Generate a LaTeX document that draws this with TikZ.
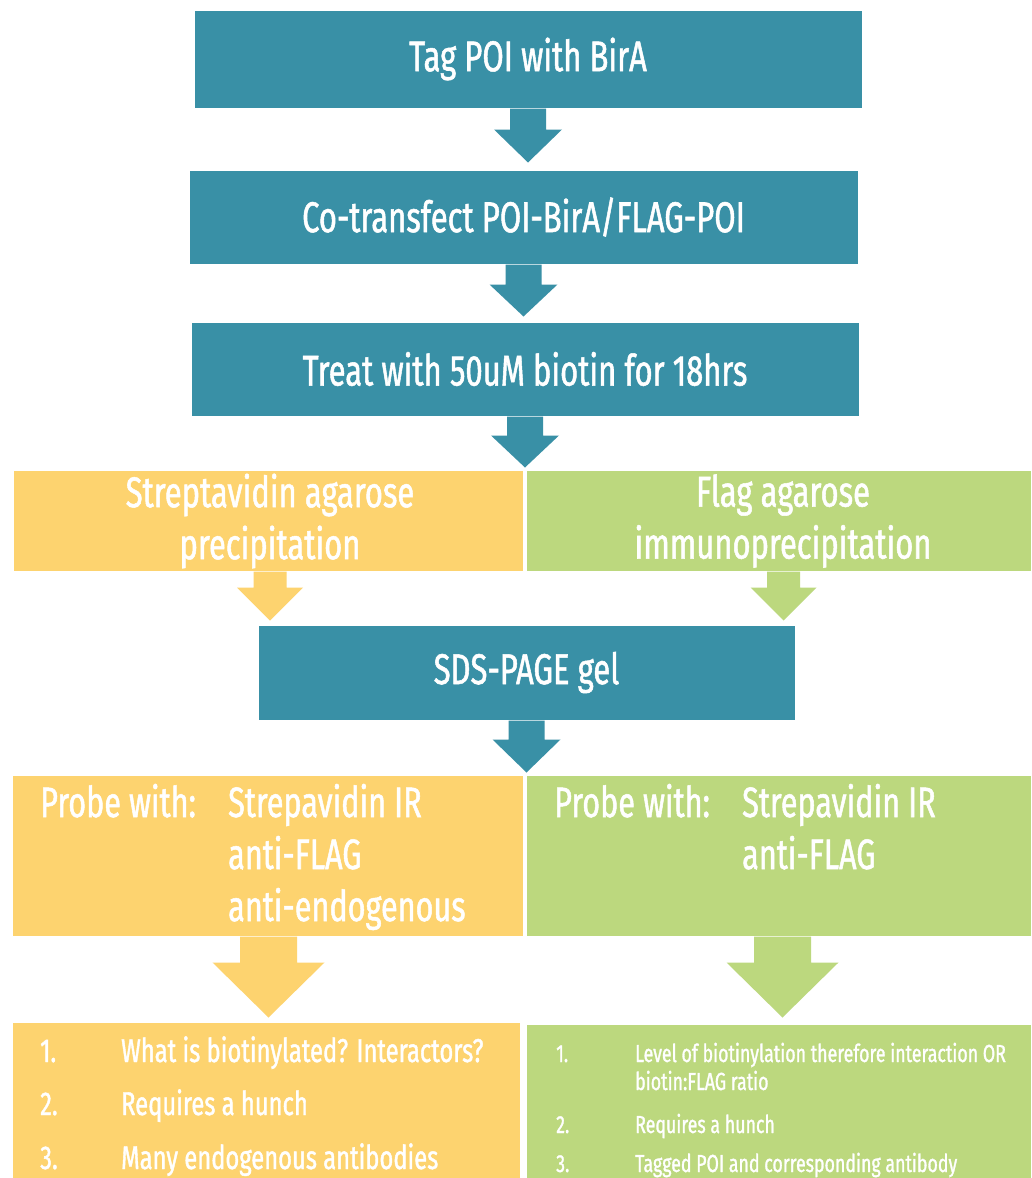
\documentclass[tikz,border=0pt]{standalone}
\usepackage{fontspec}
\setmainfont{Fira Sans}[FakeStretch=0.72,FakeBold=1.2]
\usetikzlibrary{calc}
\definecolor{tealc}{RGB}{57,144,166}
\definecolor{orngc}{RGB}{253,211,111}
\definecolor{grnc}{RGB}{188,216,126}
\tikzset{
  box/.style={draw=white, line width=1pt, inner sep=0pt, text=white},
  tbox/.style={box, fill=tealc, font=\fontsize{43}{50}\selectfont},
  obox/.style={box, fill=orngc},
  gbox/.style={box, fill=grnc},
  hdr/.style={text=white, inner sep=0pt, align=center, font=\fontsize{43}{52}\selectfont},
  probe/.style={text=white, inner sep=0pt, anchor=base west, font=\fontsize{42.5}{48}\selectfont},
  olist/.style={text=white, inner sep=0pt, anchor=base west, font=\fontsize{33}{40}\selectfont},
  glist/.style={text=white, inner sep=0pt, anchor=base west, font=\fontsize{24.7}{30}\selectfont},
}
% colour, start, tip, shaft half width, head half width, head length
\newcommand{\blkarrow}[6]{%
  \fill[#1] let \p1=(#2), \p2=(#3) in
    (\x1-#4,\y1) -- (\x1+#4,\y1) -- (\x1+#4,\y2+#6) -- (\x1+#5,\y2+#6) --
    (\x1,\y2) -- (\x1-#5,\y2+#6) -- (\x1-#4,\y2+#6) -- cycle;}
\begin{document}
\begin{tikzpicture}[x=1pt,y=-1pt]
\useasboundingbox[fill=white] (0,0) rectangle (1031,1178);
% teal steps
\node[tbox, minimum width=668pt, minimum height=98pt] (b1) at (528,59) {Tag POI with BirA};
\node[tbox, minimum width=669pt, minimum height=94pt] (b2) at (523.5,217) {Co-transfect POI-BirA/FLAG-POI};
\node[tbox, minimum width=668pt, minimum height=94pt] (b3) at (525,369) {Treat with 50uM biotin for 18hrs};
% branch boxes
\node[obox, minimum width=510pt, minimum height=101pt] (oA) at (268,520.5) {};
\node[gbox, minimum width=505pt, minimum height=101pt] (gA) at (778.5,520.5) {};
\node[hdr] (oAt) at (270,521) {Streptavidin agarose\\precipitation};
\node[hdr] (gAt) at (783,521) {Flag agarose\\immunoprecipitation};
\node[tbox, minimum width=537pt, minimum height=95pt] (sds) at (526.5,672.5) {SDS-PAGE gel};
% probe boxes
\node[obox, minimum width=511pt, minimum height=161pt] (oB) at (267.5,855.5) {};
\node[gbox, minimum width=505pt, minimum height=161pt] (gB) at (778.5,855.5) {};
\node[probe] (op1) at (40,817) {Probe with:};
\node[probe] (op2) at (228,817) {Strepavidin IR};
\node[probe] (op3) at (228,869) {anti-FLAG};
\node[probe] (op4) at (228,921) {anti-endogenous};
\node[probe] (gp1) at (554,817) {Probe with:};
\node[probe] (gp2) at (742,817) {Strepavidin IR};
\node[probe] (gp3) at (742,869) {anti-FLAG};
% result boxes
\node[obox, minimum width=508pt, minimum height=160pt] (oC) at (266,1102) {};
\node[gbox, minimum width=505pt, minimum height=158pt] (gC) at (778.5,1103) {};
\node[olist] (on1) at (40,1062) {1.};
\node[olist] (ot1) at (121,1062) {What is biotinylated? Interactors?};
\node[olist] (on2) at (40,1115) {2.};
\node[olist] (ot2) at (121,1115) {Requires a hunch};
\node[olist] (on3) at (40,1169) {3.};
\node[olist] (ot3) at (121,1169) {Many endogenous antibodies};
\node[glist] (gn1) at (556,1062) {1.};
\node[glist] (gt1) at (635,1062) {Level of biotinylation therefore interaction OR};
\node[glist] (gt1b) at (635,1090) {biotin:FLAG ratio};
\node[glist] (gn2) at (556,1133) {2.};
\node[glist] (gt2) at (635,1133) {Requires a hunch};
\node[glist] (gn3) at (556,1172) {3.};
\node[glist] (gt3) at (635,1172) {Tagged POI and corresponding antibody};
% arrows
\coordinate (t1) at ($(b1.south |- b2.north)+(0,-7)$);
\coordinate (t2) at ($(b2.south |- b3.north)+(0,-5)$);
\coordinate (t3) at ($(b3.south |- oA.north)+(0,-2)$);
\coordinate (sO) at ($(oA.south)+(2,0)$);
\coordinate (sG) at ($(gA.south)+(5,0)$);
\coordinate (tO) at ($(sO |- sds.north)+(0,-4)$);
\coordinate (tG) at ($(sG |- sds.north)+(0,-4)$);
\coordinate (t4) at ($(sds.south |- oB.north)+(0,-2)$);
\coordinate (sO2) at ($(oB.south)+(1,0)$);
\coordinate (sG2) at ($(gB.south)+(4,0)$);
\coordinate (tO2) at ($(sO2 |- oC.north)+(0,-4)$);
\coordinate (tG2) at ($(sG2 |- gC.north)+(0,-6)$);
\blkarrow{tealc}{b1.south}{t1}{18pt}{34pt}{33pt}
\blkarrow{tealc}{b2.south}{t2}{18pt}{34pt}{32pt}
\blkarrow{tealc}{b3.south}{t3}{18pt}{34pt}{32pt}
\blkarrow{orngc}{sO}{tO}{16.5pt}{33pt}{33pt}
\blkarrow{grnc}{sG}{tG}{16.5pt}{33pt}{33pt}
\blkarrow{tealc}{sds.south}{t4}{18pt}{34pt}{33pt}
\blkarrow{orngc}{sO2}{tO2}{28.5pt}{56pt}{55pt}
\blkarrow{grnc}{sG2}{tG2}{28.5pt}{56pt}{55pt}
\end{tikzpicture}
\end{document}
